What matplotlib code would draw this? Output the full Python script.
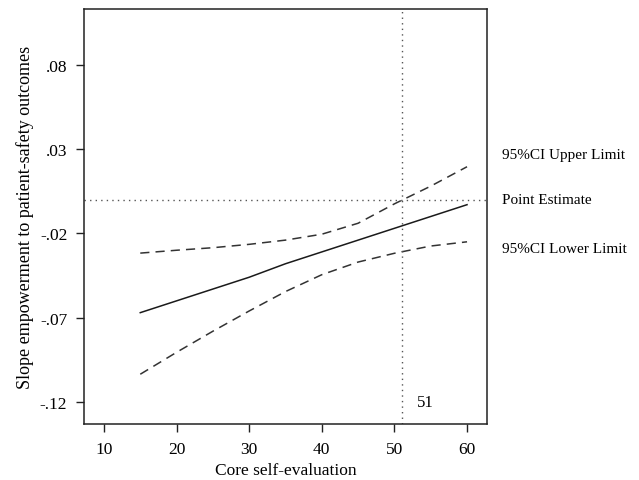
import numpy as np
import matplotlib.pyplot as plt

plt.rcParams['font.family'] = ['Liberation Serif', 'DejaVu Serif']

# core self-evaluation values
cse = [15, 20, 25, 30, 35, 40, 45, 50, 55, 60]
point_est = [-0.067, -0.060, -0.053, -0.046, -0.038, -0.031, -0.024, -0.017, -0.010, -0.003]
upper_ci = [-0.0317, -0.0300, -0.0285, -0.0265, -0.0240, -0.0205, -0.0140, -0.0025, 0.0080, 0.0195]
lower_ci = [-0.1035, -0.0905, -0.0780, -0.0660, -0.0545, -0.0445, -0.0370, -0.0318, -0.0275, -0.0250]

xticks = [10, 20, 30, 40, 50, 60]
yticks = [0.08, 0.03, -0.02, -0.07, -0.12]
ytick_labels = ['.08', '.03', '-.02', '-.07', '-.12']
cutoff = 51

fig = plt.figure(figsize=(6.39, 4.81), dpi=100)
ax = fig.add_axes([84/639, 1 - 425/481, (487-84)/639, (425-10)/481])

ax.plot(cse, point_est, color='#1a1a1a', lw=1.1)
ax.plot(cse, upper_ci, color='#333333', lw=1.1, dashes=(6, 4))
ax.plot(cse, lower_ci, color='#333333', lw=1.1, dashes=(6, 4))

ax.axhline(0, color='#555555', lw=1.0, ls=(0, (1, 3)))
ax.axvline(cutoff, color='#555555', lw=1.0, ls=(0, (1, 3)))

ax.set_xlim(7.25, 62.75)
ax.set_ylim(-0.133, 0.113)
ax.set_xticks(xticks)
ax.set_yticks(yticks)
ax.set_yticklabels(ytick_labels)
ax.tick_params(direction='out', length=6, width=1, labelsize=12.5, color='#222222', pad=6)
for s in ax.spines.values():
    s.set_linewidth(1.1)
    s.set_color('#222222')

ax.set_xlabel('Core self-evaluation', fontsize=12.5, labelpad=4)
ax.set_ylabel('Slope empowerment to patient-safety outcomes', fontsize=13, labelpad=4)

ax.text(54.2, -0.12, str(cutoff), fontsize=12, ha='center', va='center')

fig.text(502/639, 1 - 156/481, '95%CI Upper Limit', fontsize=11, va='center')
fig.text(502/639, 1 - 200/481, 'Point Estimate', fontsize=11, va='center')
fig.text(502/639, 1 - 250/481, '95%CI Lower Limit', fontsize=11, va='center')

fig.savefig('out.png', dpi=100)
